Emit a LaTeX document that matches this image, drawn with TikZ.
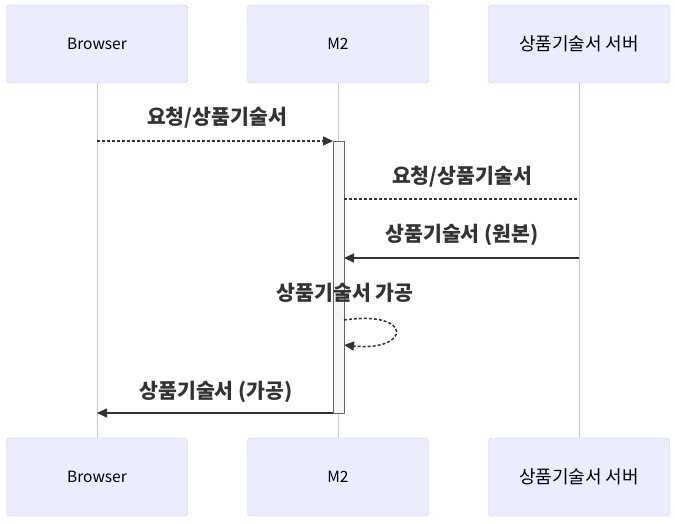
\documentclass[tikz,border=0pt]{standalone}
\usepackage{fontspec}
\setmainfont{Noto Sans CJK KR}
\usetikzlibrary{arrows.meta}
\definecolor{actfill}{HTML}{ECECFF}
\definecolor{actdraw}{HTML}{CFC4F0}
\definecolor{lifeln}{HTML}{C8C8D0}
\definecolor{txt}{HTML}{333333}
\begin{document}
\begin{tikzpicture}[x=1pt,y=-1pt,
  actor/.style={draw=actdraw, fill=actfill, rounded corners=3pt, minimum width=181pt, minimum height=78pt, inner sep=0pt, font=\fontsize{15.5}{18}\selectfont, text=black},
  kactor/.style={actor, font=\fontsize{18}{20}\selectfont},
  life/.style={draw=lifeln, line width=0.6pt},
  msg/.style={draw=txt, line width=1.5pt, -{Triangle[length=10pt,width=9pt]}},
  dmsg/.style={msg, dash pattern=on 3pt off 2pt},
  lbl/.style={font=\bfseries\fontsize{20.5}{22}\selectfont, text=txt, inner sep=0pt}]
\useasboundingbox (0,0) rectangle (675,524);
% actors
\node[actor] (bt) at (97,44) {\raisebox{-2pt}{Browser}};
\node[actor] (mt) at (338,44) {\raisebox{-2pt}{M2}};
\node[kactor] (st) at (579,44) {\raisebox{-2pt}{상품기술서 서버}};
\node[actor] (bb) at (97,477) {\raisebox{-2pt}{Browser}};
\node[actor] (mb) at (338,477) {\raisebox{-2pt}{M2}};
\node[kactor] (sb) at (579,477) {\raisebox{-2pt}{상품기술서 서버}};
% lifelines
\draw[life] (bt.south) -- (bb.north);
\draw[life] (mt.south) -- (mb.north);
\draw[life] (st.south) -- (sb.north);
% activation
\node[draw=black!60, fill=black!4, line width=0.6pt, minimum width=11pt, minimum height=272pt, inner sep=0pt, anchor=north] (act) at (338.5,141) {};
% coordinates
\coordinate (b1) at (97,141);
\coordinate (m1) at (333,141);
\coordinate (m2) at (344,199);
\coordinate (s2) at (579,199);
\coordinate (s3) at (579,258);
\coordinate (m3) at (344,258);
\coordinate (m4a) at (344,320);
\coordinate (m4b) at (344,345);
\coordinate (m5) at (333,413);
\coordinate (b5) at (97,413);
% messages
\draw[dmsg] (b1) -- (m1);
\node[lbl] (l1) at (217,118) {요청/상품기술서};
\draw[txt, line width=1.5pt, dash pattern=on 3pt off 2pt] (m2) -- (s2);
\node[lbl] (l2) at (462,177) {요청/상품기술서};
\draw[msg] (s3) -- (m3);
\node[lbl] (l3) at (462,235) {상품기술서 (원본)};
\draw[dmsg] (m4a) .. controls (415,310) and (410,352) .. (m4b);
\node[lbl] (l4) at (345,293) {상품기술서 가공};
\draw[msg] (m5) -- (b5);
\node[lbl] (l5) at (216,392) {상품기술서 (가공)};
\end{tikzpicture}
\end{document}
